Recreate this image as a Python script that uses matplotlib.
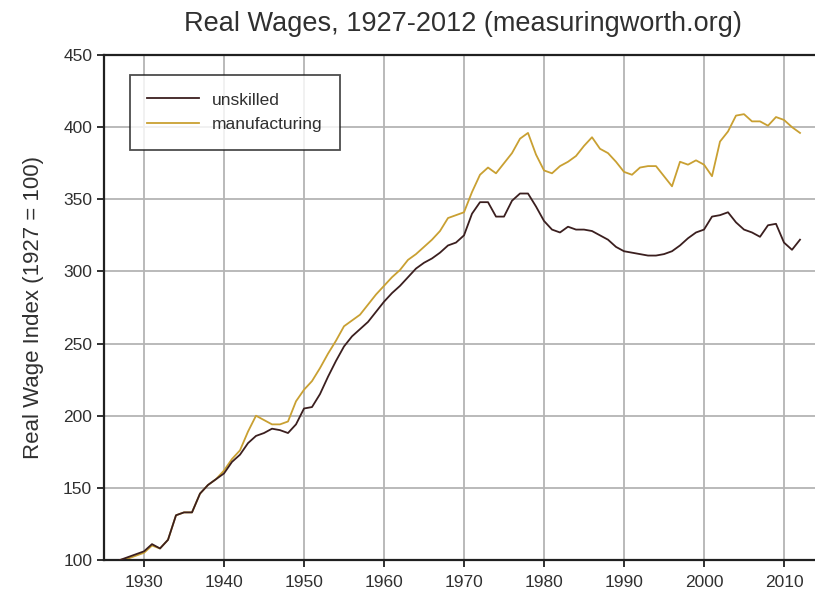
import matplotlib
matplotlib.use("Agg")
import matplotlib.pyplot as plt

plt.rcParams['font.family'] = ['Liberation Sans', 'DejaVu Sans']

years = list(range(1927, 2013))

unskilled = [100, 102, 104, 106, 111, 108, 114, 131, 133, 133,
             146, 152, 156, 160, 168, 173, 181, 186, 188, 191,
             190, 188, 194, 205, 206, 215, 227, 238, 248, 255,
             260, 265, 272, 279, 285, 290, 296, 302, 306, 309,
             313, 318, 320, 325, 340, 348, 348, 338, 338, 349,
             354, 354, 345, 335, 329, 327, 331, 329, 329, 328,
             325, 322, 317, 314, 313, 312, 311, 311, 312, 314,
             318, 323, 327, 329, 338, 339, 341, 334, 329, 327,
             324, 332, 333, 320, 315, 322]

manufacturing = [100, 101, 103, 105, 110, 108, 114, 131, 133, 133,
                 146, 152, 156, 162, 170, 176, 189, 200, 197, 194,
                 194, 196, 210, 218, 224, 233, 243, 252, 262, 266,
                 270, 277, 284, 290, 296, 301, 308, 312, 317, 322,
                 328, 337, 339, 341, 355, 367, 372, 368, 375, 382,
                 392, 396, 381, 370, 368, 373, 376, 380, 387, 393,
                 385, 382, 376, 369, 367, 372, 373, 373, 366, 359,
                 376, 374, 377, 374, 366, 390, 397, 408, 409, 404,
                 404, 401, 407, 405, 400, 396]

xticks = [1930, 1940, 1950, 1960, 1970, 1980, 1990, 2000, 2010]
yticks = [100, 150, 200, 250, 300, 350, 400, 450]

fig = plt.figure(figsize=(8.15, 5.99), dpi=100)
ax = fig.add_axes([104/815, 1-560/599, 1-104/815, (560-55)/599])

ax.plot(years, unskilled, color='#3b1f1f', lw=1.3, label='unskilled', zorder=3)
ax.plot(years, manufacturing, color='#c9a032', lw=1.3, label='manufacturing', zorder=2)

ax.set_xlim(1925, 1925 + 711/8)
ax.set_ylim(100, 450)
ax.set_xticks(xticks)
ax.set_yticks(yticks)
ax.grid(True, color='#b4b4b4', lw=1.3)
ax.set_axisbelow(True)
for s in ['left', 'bottom', 'top']:
    ax.spines[s].set_linewidth(1.6)
    ax.spines[s].set_color('#202020')
ax.spines['right'].set_visible(False)
ax.tick_params(axis='both', direction='out', length=5, width=1.3,
               labelsize=12.5, labelcolor='#303030', color='#202020')
ax.tick_params(axis='x', pad=6)

ax.set_ylabel('Real Wage Index (1927 = 100)', fontsize=16, color='#303030', labelpad=14)
fig.text(0.568, 0.960, 'Real Wages, 1927-2012 (measuringworth.org)', fontsize=19.5,
         ha='center', va='center', color='#303030')

leg = ax.legend(loc='upper left', bbox_to_anchor=((130-104)/711, 1-(75-55)/505),
                frameon=True, fancybox=False, fontsize=12.5, borderpad=1.0,
                handlelength=3.0, handletextpad=0.7, labelspacing=0.55,
                borderaxespad=0)
leg.get_frame().set_edgecolor('#202020')
leg.get_frame().set_linewidth(1.3)
for t in leg.get_texts():
    t.set_color('#303030')

fig.savefig('out.png', dpi=100)
